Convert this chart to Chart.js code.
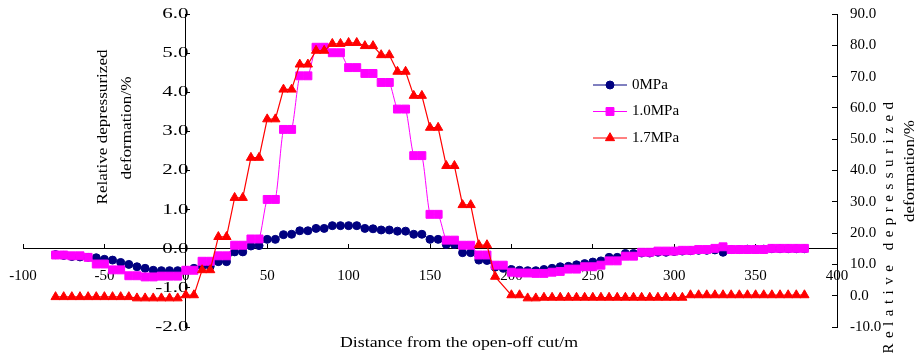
<!DOCTYPE html>
<html>
<head>
<meta charset="utf-8">
<script src="https://cdn.jsdelivr.net/npm/chart.js@4/dist/chart.umd.min.js"></script>
<style>
  body { margin: 0; background: #fff; }
  #wrap { width: 917px; height: 356px; }
</style>
</head>
<body>
<div id="wrap"><canvas id="deformChart" width="917" height="356"></canvas></div>
<script>
// distance from the open-off cut (m)
const distance = [
  -80, -75, -70, -65, -60, -55, -50, -45, -40, -35, -30, -25, -20, -15, -10, -5,
  0, 5, 10, 15, 20, 25, 30, 35, 40, 45, 50, 55, 60, 65, 70, 75, 80, 85, 90, 95,
  100, 105, 110, 115, 120, 125, 130, 135, 140, 145, 150, 155, 160, 165, 170, 175, 180, 185, 190, 195,
  200, 205, 210, 215, 220, 225, 230, 235, 240, 245, 250, 255, 260, 265, 270, 275, 280, 285, 290, 295,
  300, 305, 310, 315, 320, 325, 330, 335, 340, 345, 350, 355, 360, 365, 370, 375, 380
];

// 0MPa (left axis)
const def0MPa = [
  -0.15, -0.17, -0.20, -0.21, -0.22, -0.23, -0.27, -0.29, -0.35, -0.40, -0.46, -0.50, -0.55, -0.56, -0.56, -0.56,
  -0.55, -0.50, -0.45, -0.45, -0.33, -0.33, -0.08, -0.08, 0.07, 0.08, 0.24, 0.24, 0.36, 0.37, 0.46, 0.46, 0.52, 0.52, 0.59, 0.59,
  0.59, 0.59, 0.52, 0.51, 0.48, 0.48, 0.45, 0.45, 0.37, 0.37, 0.24, 0.24, 0.11, 0.11, -0.10, -0.10, -0.29, -0.30, -0.47, -0.50,
  -0.53, -0.55, -0.56, -0.56, -0.53, -0.50, -0.46, -0.45, -0.41, -0.38, -0.34, -0.31, -0.22, -0.22, -0.12, -0.12, -0.11, -0.11, -0.09, -0.09,
  -0.07, -0.06, -0.05, -0.04, -0.04, -0.03, -0.09, -0.02, -0.02, -0.01, -0.01, -0.01, 0.00, 0.00, 0.00, 0.00, 0.00
];

// 1.0MPa (left axis)
const def10MPa = [
  -0.16, -0.16, -0.18, -0.18, -0.22, -0.39, -0.39, -0.54, -0.54, -0.69, -0.69, -0.72, -0.72, -0.70, -0.70, -0.70,
  -0.55, -0.55, -0.32, -0.32, -0.18, -0.18, 0.09, 0.09, 0.25, 0.25, 1.26, 1.26, 3.05, 3.05, 4.42, 4.42, 5.15, 5.15, 5.01, 5.01,
  4.63, 4.63, 4.48, 4.48, 4.25, 4.25, 3.57, 3.57, 2.38, 2.38, 0.88, 0.88, 0.22, 0.22, 0.09, 0.09, -0.16, -0.16, -0.42, -0.42,
  -0.60, -0.62, -0.62, -0.63, -0.63, -0.60, -0.58, -0.52, -0.52, -0.46, -0.46, -0.42, -0.31, -0.31, -0.19, -0.19, -0.09, -0.09, -0.06, -0.06,
  -0.06, -0.04, -0.04, -0.02, -0.02, 0.01, 0.05, -0.02, -0.02, -0.02, -0.02, -0.02, 0.01, 0.01, 0.01, 0.01, 0.01
];

// 1.7MPa (right axis)
const def17MPa = [
  -0.4, -0.4, -0.4, -0.4, -0.4, -0.4, -0.4, -0.4, -0.4, -0.4, -0.8, -0.8, -0.8, -0.8, -0.8, -0.8,
  0.2, 0.2, 8.2, 8.2, 18.8, 18.8, 31.3, 31.3, 44.1, 44.1, 56.4, 56.4, 65.9, 65.9, 73.9, 73.9, 78.3, 78.3, 80.5, 80.5,
  80.8, 80.8, 79.8, 79.8, 76.9, 76.9, 71.6, 71.6, 63.9, 63.9, 53.7, 53.7, 41.5, 41.5, 29.0, 29.0, 16.2, 16.2, 6.1, null,
  0.2, 0.2, -0.8, -0.8, -0.6, -0.6, -0.6, -0.6, -0.6, -0.6, -0.6, -0.6, -0.6, -0.6, -0.6, -0.6, -0.6, -0.6, -0.6, -0.6,
  -0.6, -0.6, 0.2, 0.2, 0.2, 0.2, 0.2, 0.2, 0.2, 0.2, 0.2, 0.2, 0.2, 0.2, 0.2, 0.2, 0.2
];

const seriesNames = ['0MPa', '1.0MPa', '1.7MPa'];
const xTitle = 'Distance from the open-off cut/m';
const yTitle = ['Relative depressurized', 'deformation/%'];

const FONT = '"Liberation Serif", "Times New Roman", serif';

function toPoints(values) {
  return distance.map((d, i) => ({ x: d, y: values[i] }));
}

// keep scales from pushing the plot area around, layout.padding decides it
function noPadding(s) {
  s.paddingLeft = 0;
  s.paddingRight = 0;
  s.paddingTop = 0;
  s.paddingBottom = 0;
}

// left axis labels in the picture are drawn wider than normal
function stretchLabels(s, factor, gap) {
  if (s._stretched) return;
  s._stretched = true;
  const orig = s.drawLabels;
  s.drawLabels = function (area) {
    const ctx = this.ctx;
    const ax = this.chart.scales.x.getPixelForValue(0) - gap;
    ctx.save();
    ctx.translate(ax, 0);
    ctx.scale(factor, 1);
    ctx.translate(-ax, 0);
    orig.call(this, area);
    ctx.restore();
  };
}

function drawText(ctx, text, x, y, opt) {
  ctx.save();
  ctx.translate(x, y);
  if (opt.rotate) ctx.rotate(-Math.PI / 2);
  if (opt.length) ctx.scale(opt.length / ctx.measureText(text).width, 1);
  if (opt.spacing) ctx.letterSpacing = opt.spacing + 'px';
  ctx.fillText(text, 0, 0);
  ctx.restore();
}

// titles and legend drawn on top (Excel style)
const textPlugin = {
  id: 'textPlugin',
  afterDraw(chart) {
    const ctx = chart.ctx;
    ctx.save();
    ctx.fillStyle = '#000';
    ctx.font = '15px ' + FONT;
    ctx.textAlign = 'center';
    ctx.textBaseline = 'middle';

    drawText(ctx, xTitle, 459, 343, { length: 238 });

    drawText(ctx, yTitle[0], 103, 127, { rotate: true, length: 155 });
    drawText(ctx, yTitle[1], 127, 128, { rotate: true, length: 103 });
    drawText(ctx, yTitle[0], 889, 225, { rotate: true, spacing: 5.5 });
    drawText(ctx, yTitle[1], 910, 171, { rotate: true, length: 102 });

    // legend
    chart.data.datasets.forEach((ds, i) => {
      const y = 85 + i * 26.5;
      ctx.strokeStyle = ds.borderColor;
      ctx.lineWidth = 1;
      ctx.beginPath();
      ctx.moveTo(593, y);
      ctx.lineTo(627, y);
      ctx.stroke();
      ctx.fillStyle = ds.backgroundColor;
      Chart.helpers.drawPoint(ctx, {
        pointStyle: ds.pointStyle,
        radius: ds.pointRadius,
        borderWidth: 1,
        rotation: 0
      }, 610, y);
      ctx.fillStyle = '#000';
      ctx.textAlign = 'left';
      ctx.fillText(ds.label, 632, y);
    });
    ctx.restore();
  }
};

const tickFont = { family: FONT, size: 15 };

const config = {
  type: 'line',
  data: {
    datasets: [
      {
        label: seriesNames[0],
        data: toPoints(def0MPa),
        yAxisID: 'y',
        borderColor: '#000080',
        backgroundColor: '#000080',
        borderWidth: 1,
        pointStyle: 'circle',
        pointRadius: 4,
        pointBorderWidth: 1,
        order: 3
      },
      {
        label: seriesNames[1],
        data: toPoints(def10MPa),
        yAxisID: 'y',
        borderColor: '#FF00FF',
        backgroundColor: '#FF00FF',
        borderWidth: 1,
        pointStyle: 'rect',
        pointRadius: 5.6,
        pointBorderWidth: 1,
        tension: 0.2,
        order: 2
      },
      {
        label: seriesNames[2],
        data: toPoints(def17MPa),
        yAxisID: 'y2',
        borderColor: '#FF0000',
        backgroundColor: '#FF0000',
        borderWidth: 1.2,
        pointStyle: 'triangle',
        pointRadius: 5.3,
        pointBorderWidth: 1,
        spanGaps: true,
        order: 1
      }
    ]
  },
  options: {
    responsive: false,
    animation: false,
    layout: {
      autoPadding: false,
      padding: { left: 23, right: 0, top: 14, bottom: 29 }
    },
    plugins: {
      legend: { display: false },
      tooltip: { enabled: false }
    },
    scales: {
      x: {
        type: 'linear',
        position: { y: 0 },
        min: -100,
        max: 400,
        afterFit: s => { s.height = 0; noPadding(s); },
        ticks: {
          stepSize: 50,
          autoSkip: false,
          maxRotation: 0,
          color: '#000',
          font: tickFont,
          padding: 23
        },
        grid: {
          drawOnChartArea: false,
          tickLength: -5,
          color: '#000'
        },
        border: { color: '#000', width: 1 }
      },
      y: {
        type: 'linear',
        position: { x: 0 },
        min: -2,
        max: 6,
        afterFit: s => { s.width = 0; noPadding(s); },
        afterUpdate: s => stretchLabels(s, 1.4, 7),
        ticks: {
          stepSize: 1,
          color: '#000',
          font: tickFont,
          padding: 12,
          callback: v => v.toFixed(1)
        },
        grid: {
          drawOnChartArea: false,
          tickLength: -5,
          color: '#000'
        },
        border: { color: '#000', width: 1 }
      },
      y2: {
        type: 'linear',
        position: 'right',
        min: -10,
        max: 90,
        afterFit: s => { s.width = 80; noPadding(s); },
        ticks: {
          stepSize: 10,
          color: '#000',
          font: tickFont,
          padding: 18,
          callback: v => v.toFixed(1)
        },
        grid: {
          drawOnChartArea: false,
          tickLength: -5,
          color: '#000'
        },
        border: { color: '#000', width: 1 }
      }
    }
  },
  plugins: [textPlugin]
};

new Chart(document.getElementById('deformChart'), config);
</script>
</body>
</html>
